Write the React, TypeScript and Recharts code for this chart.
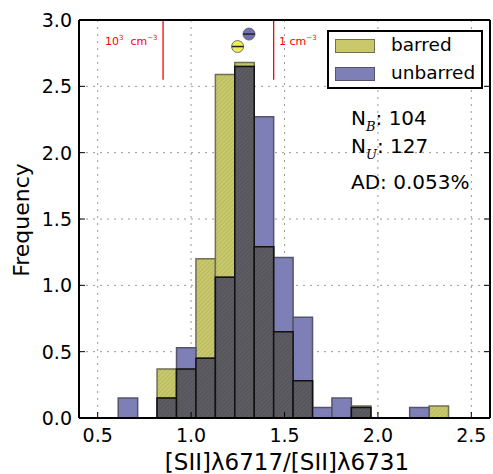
import React from 'react';
import {
  ComposedChart,
  XAxis,
  YAxis,
  CartesianGrid,
  ReferenceArea,
  ReferenceLine,
  Scatter,
} from 'recharts';

// histogram bins (left edges), shared by both samples
const binStart = [0.61, 0.714, 0.818, 0.922, 1.026, 1.13, 1.234, 1.338, 1.442, 1.546, 1.65, 1.754, 1.858, 1.962, 2.066, 2.17, 2.274];
const binWidth = 0.104;

// normalised frequencies
const barred = [0, 0, 0.37, 0.37, 1.2, 2.59, 2.68, 1.29, 0.65, 0.28, 0, 0, 0.09, 0, 0, 0, 0.09];
const unbarred = [0.15, 0, 0.15, 0.53, 0.45, 1.06, 2.65, 2.27, 1.21, 0.76, 0.08, 0.15, 0.08, 0, 0, 0.08, 0];

// medians
const barredMedian = [{ x: 1.249, y: 2.8 }];
const unbarredMedian = [{ x: 1.31, y: 2.894 }];

// density markers
const densityLines = [
  { x: 0.85, label: '10³ cm⁻³' },
  { x: 1.442, label: '1 cm⁻³' },
];

const xTicks = [0.5, 1.0, 1.5, 2.0, 2.5];
const yTicks = [0, 0.5, 1.0, 1.5, 2.0, 2.5, 3.0];

const FONT = '"DejaVu Sans", sans-serif';

const BottomTick = ({ x, y, payload }: any) => (
  <g>
    <line x1={x} x2={x} y1={y} y2={y - 6} stroke="#000" strokeWidth={1} />
    <text x={x} y={y + 24} textAnchor="middle" fontSize={19} fontFamily={FONT} fill="#000">
      {payload.value.toFixed(1)}
    </text>
  </g>
);

const TopTick = ({ x, y }: any) => (
  <line x1={x} x2={x} y1={y} y2={y + 6} stroke="#000" strokeWidth={1} />
);

const LeftTick = ({ x, y, payload }: any) => (
  <g>
    <line x1={x} x2={x + 6} y1={y} y2={y} stroke="#000" strokeWidth={1} />
    <text x={x - 7} y={y + 7} textAnchor="end" fontSize={19} fontFamily={FONT} fill="#000">
      {payload.value.toFixed(1)}
    </text>
  </g>
);

const RightTick = ({ x, y }: any) => (
  <line x1={x} x2={x - 6} y1={y} y2={y} stroke="#000" strokeWidth={1} />
);

const medianDot = (fill: string) => (props: any) => {
  const { cx, cy } = props;
  return (
    <g>
      <circle cx={cx} cy={cy} r={6} fill={fill} stroke="#555" strokeWidth={0.8} />
      <line x1={cx - 6} x2={cx + 6} y1={cy} y2={cy} stroke="#222" strokeWidth={1.5} />
    </g>
  );
};

const subStyle: React.CSSProperties = {
  fontStyle: 'italic',
  fontSize: 13,
  fontFamily: '"DejaVu Serif", serif',
  position: 'relative',
  top: 6,
};

export default function App() {
  return (
    <div style={{ position: 'absolute', left: 0, top: 0, width: 493, height: 474, background: '#fff', fontFamily: FONT }}>
      <ComposedChart width={493} height={474} margin={{ top: 0, right: 0, bottom: 0, left: 0 }}>
        <defs>
          <pattern id="hatchY" width="3" height="3" patternUnits="userSpaceOnUse" patternTransform="rotate(45)">
            <rect width="3" height="3" fill="#c9c96c" />
            <line x1="0" y1="0" x2="0" y2="3" stroke="#a8a855" strokeWidth="1" />
          </pattern>
          <pattern id="hatchD" width="3" height="3" patternUnits="userSpaceOnUse" patternTransform="rotate(45)">
            <rect width="3" height="3" fill="#5c5c62" />
            <line x1="0" y1="0" x2="0" y2="3" stroke="#4a4a50" strokeWidth="1" />
          </pattern>
        </defs>
        <CartesianGrid stroke="#999" strokeDasharray="2 5" />
        <XAxis
          xAxisId={0}
          type="number"
          dataKey="x"
          domain={[0.4, 2.6]}
          ticks={xTicks}
          height={56}
          tickSize={0}
          tickMargin={0}
          tick={<BottomTick />}
          axisLine={{ stroke: '#000', strokeWidth: 2 }}
          allowDataOverflow
        />
        <XAxis
          xAxisId="top"
          orientation="top"
          type="number"
          domain={[0.4, 2.6]}
          ticks={xTicks}
          height={20}
          tickSize={0}
          tickMargin={0}
          tick={<TopTick />}
          axisLine={{ stroke: '#000', strokeWidth: 2 }}
          allowDataOverflow
        />
        <YAxis
          yAxisId={0}
          type="number"
          dataKey="y"
          domain={[0, 3]}
          ticks={yTicks}
          width={79}
          tickSize={0}
          tickMargin={0}
          tick={<LeftTick />}
          axisLine={{ stroke: '#000', strokeWidth: 2 }}
          allowDataOverflow
        />
        <YAxis
          yAxisId="right"
          orientation="right"
          type="number"
          domain={[0, 3]}
          ticks={yTicks}
          width={3}
          tickSize={0}
          tickMargin={0}
          tick={<RightTick />}
          axisLine={{ stroke: '#000', strokeWidth: 2 }}
          allowDataOverflow
        />

        {binStart.map((b, i) =>
          barred[i] > 0 ? (
            <ReferenceArea
              key={`b${i}`}
              x1={b}
              x2={b + binWidth}
              y1={0}
              y2={barred[i]}
              fill="url(#hatchY)"
              fillOpacity={1}
              stroke="#6f6f55"
              strokeWidth={1.5}
            />
          ) : null
        )}
        {binStart.map((b, i) =>
          unbarred[i] > 0 ? (
            <ReferenceArea
              key={`u${i}`}
              x1={b}
              x2={b + binWidth}
              y1={0}
              y2={unbarred[i]}
              fill="#7f7fb8"
              fillOpacity={1}
              stroke="#55556a"
              strokeWidth={1.5}
            />
          ) : null
        )}
        {binStart.map((b, i) =>
          Math.min(barred[i], unbarred[i]) > 0 ? (
            <ReferenceArea
              key={`o${i}`}
              x1={b}
              x2={b + binWidth}
              y1={0}
              y2={Math.min(barred[i], unbarred[i])}
              fill="url(#hatchD)"
              fillOpacity={1}
              stroke="#111"
              strokeWidth={1.5}
            />
          ) : null
        )}

        {densityLines.map((d) => (
          <ReferenceLine
            key={d.label}
            segment={[
              { x: d.x, y: 2.55 },
              { x: d.x, y: 3.0 },
            ]}
            stroke="#ff0000"
            strokeWidth={1.3}
          />
        ))}

        <Scatter data={barredMedian} fill="#eded5c" shape={medianDot('#eded5c')} isAnimationActive={false} />
        <Scatter data={unbarredMedian} fill="#7070b0" shape={medianDot('#7070b0')} isAnimationActive={false} />
      </ComposedChart>

      {/* density labels */}
      <div style={{ position: 'absolute', left: 105, top: 34, fontSize: 11, color: '#ff0000', whiteSpace: 'nowrap' }}>
        10<sup style={{ fontSize: 7 }}>3</sup>&nbsp; cm<sup style={{ fontSize: 7 }}>−3</sup>
      </div>
      <div style={{ position: 'absolute', left: 279, top: 34, fontSize: 11, color: '#ff0000', whiteSpace: 'nowrap' }}>
        1 cm<sup style={{ fontSize: 7 }}>−3</sup>
      </div>

      {/* legend */}
      <div
        style={{
          position: 'absolute',
          left: 327,
          top: 30,
          width: 152,
          height: 55,
          border: '2px solid #000',
          background: '#fff',
          fontSize: 18.5,
        }}
      >
        <div style={{ position: 'absolute', left: 6, top: 7, width: 38, height: 12, background: '#c9c96c', border: '1px solid #6f6f55' }} />
        <div style={{ position: 'absolute', left: 62, top: 2, lineHeight: '22px' }}>barred</div>
        <div style={{ position: 'absolute', left: 6, top: 35, width: 38, height: 12, background: '#7f7fb8', border: '1px solid #55556a' }} />
        <div style={{ position: 'absolute', left: 62, top: 30, lineHeight: '22px' }}>unbarred</div>
      </div>

      {/* statistics */}
      <div style={{ position: 'absolute', left: 351, top: 106, fontSize: 20, lineHeight: '24px', whiteSpace: 'nowrap' }}>
        N<span style={subStyle}>B</span>: 104
      </div>
      <div style={{ position: 'absolute', left: 351, top: 134, fontSize: 20, lineHeight: '24px', whiteSpace: 'nowrap' }}>
        N<span style={subStyle}>U</span>: 127
      </div>
      <div style={{ position: 'absolute', left: 351, top: 170, fontSize: 20, lineHeight: '24px', whiteSpace: 'nowrap' }}>
        AD: 0.053%
      </div>

      {/* axis titles */}
      <div
        style={{
          position: 'absolute',
          left: 21,
          top: 220,
          fontSize: 22,
          transform: 'translate(-50%, -50%) rotate(-90deg)',
          whiteSpace: 'nowrap',
        }}
      >
        Frequency
      </div>
      <div
        style={{
          position: 'absolute',
          left: 287,
          top: 462,
          fontSize: 23,
          transform: 'translate(-50%, -50%)',
          whiteSpace: 'nowrap',
        }}
      >
        [SII]λ6717/[SII]λ6731
      </div>
    </div>
  );
}
